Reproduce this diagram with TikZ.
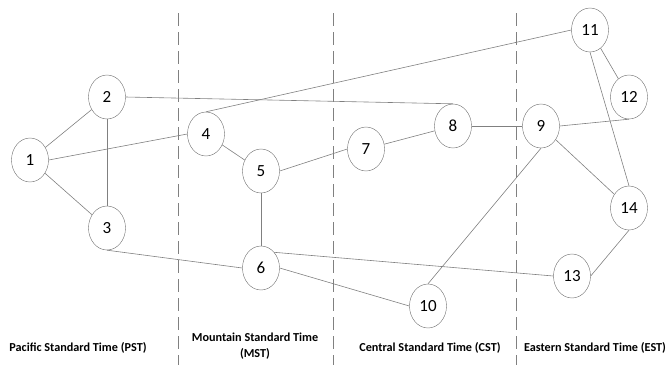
\documentclass[tikz,border=0pt]{standalone}
\usepackage{fontspec}
\setmainfont{Carlito}
\usepackage{tikz}
\usetikzlibrary{shapes.geometric}

\begin{document}
\begin{tikzpicture}[x=1pt, y=-1pt,
    vertex/.style={draw=gray!85!black, ellipse, minimum width=37pt, minimum height=44pt, inner sep=0pt, font=\fontsize{17}{17}\selectfont},
    edge/.style={draw=gray, line width=0.6pt},
    border/.style={draw=gray, line width=0.7pt, dash pattern=on 13pt off 6pt},
    zone/.style={font=\fontsize{12.2}{15.5}\selectfont\bfseries, align=center}]
                \useasboundingbox (0,0) rectangle (669,365);

                % The time zone borders
                \draw[border] (178,13) -- (178,365);
                \draw[border] (333,13) -- (333,365);
                \draw[border] (516,13) -- (516,365);

                % The cities
                \node[vertex] (n1) at (30,160) {1};
                \node[vertex] (n2) at (107,97) {2};
                \node[vertex] (n3) at (107,228) {3};
                \node[vertex] (n4) at (206,134) {4};
                \node[vertex] (n5) at (261,171) {5};
                \node[vertex] (n6) at (261,268) {6};
                \node[vertex] (n7) at (366,149) {7};
                \node[vertex] (n8) at (453,126) {8};
                \node[vertex] (n9) at (541,126) {9};
                \node[vertex] (n10) at (428,306) {10};
                \node[vertex] (n11) at (590,30) {11};
                \node[vertex] (n12) at (629,97) {12};
                \node[vertex] (n13) at (572,276) {13};
                \node[vertex] (n14) at (629,208) {14};

                % The links
                \draw[edge] (n1) -- (n2);
                \draw[edge] (n1) -- (n3);
                \draw[edge] (n1.east) -- (n4.west);
                \draw[edge] (n2) -- (n3);
                \draw[edge] (n2.east) -- (n8.north);
                \draw[edge] (n3.south) -- (n6.west);
                \draw[edge] (n4.north) -- (n11.west);
                \draw[edge] (n4) -- (n5);
                \draw[edge] (n5) -- (n6);
                \draw[edge] (n5.east) -- (n7.west);
                \draw[edge] (n7) -- (n8);
                \draw[edge] (n8) -- (n9);
                \draw[edge] (n9.east) -- (n12.south);
                \draw[edge] (n9) -- (n14);
                \draw[edge] (n9.south) -- (n10.north);
                \draw[edge] (n11) -- (n12);
                \draw[edge] (n11.south) -- (n14.north);
                \draw[edge] (n14.south) -- (n13.east);
                \draw[edge] (n6.north east) -- (n13.west);
                \draw[edge] (n6.east) -- (n10.west);

                % The zone names
                \node[zone] (pst) at (78,348) {Pacific Standard Time (PST)};
                \node[zone] (mst) at (255,346) {Mountain Standard Time\\(MST)};
                \node[zone] (cst) at (430,348) {Central Standard Time (CST)};
                \node[zone] (est) at (595,348) {Eastern Standard Time (EST)};
            \end{tikzpicture}
\end{document}
